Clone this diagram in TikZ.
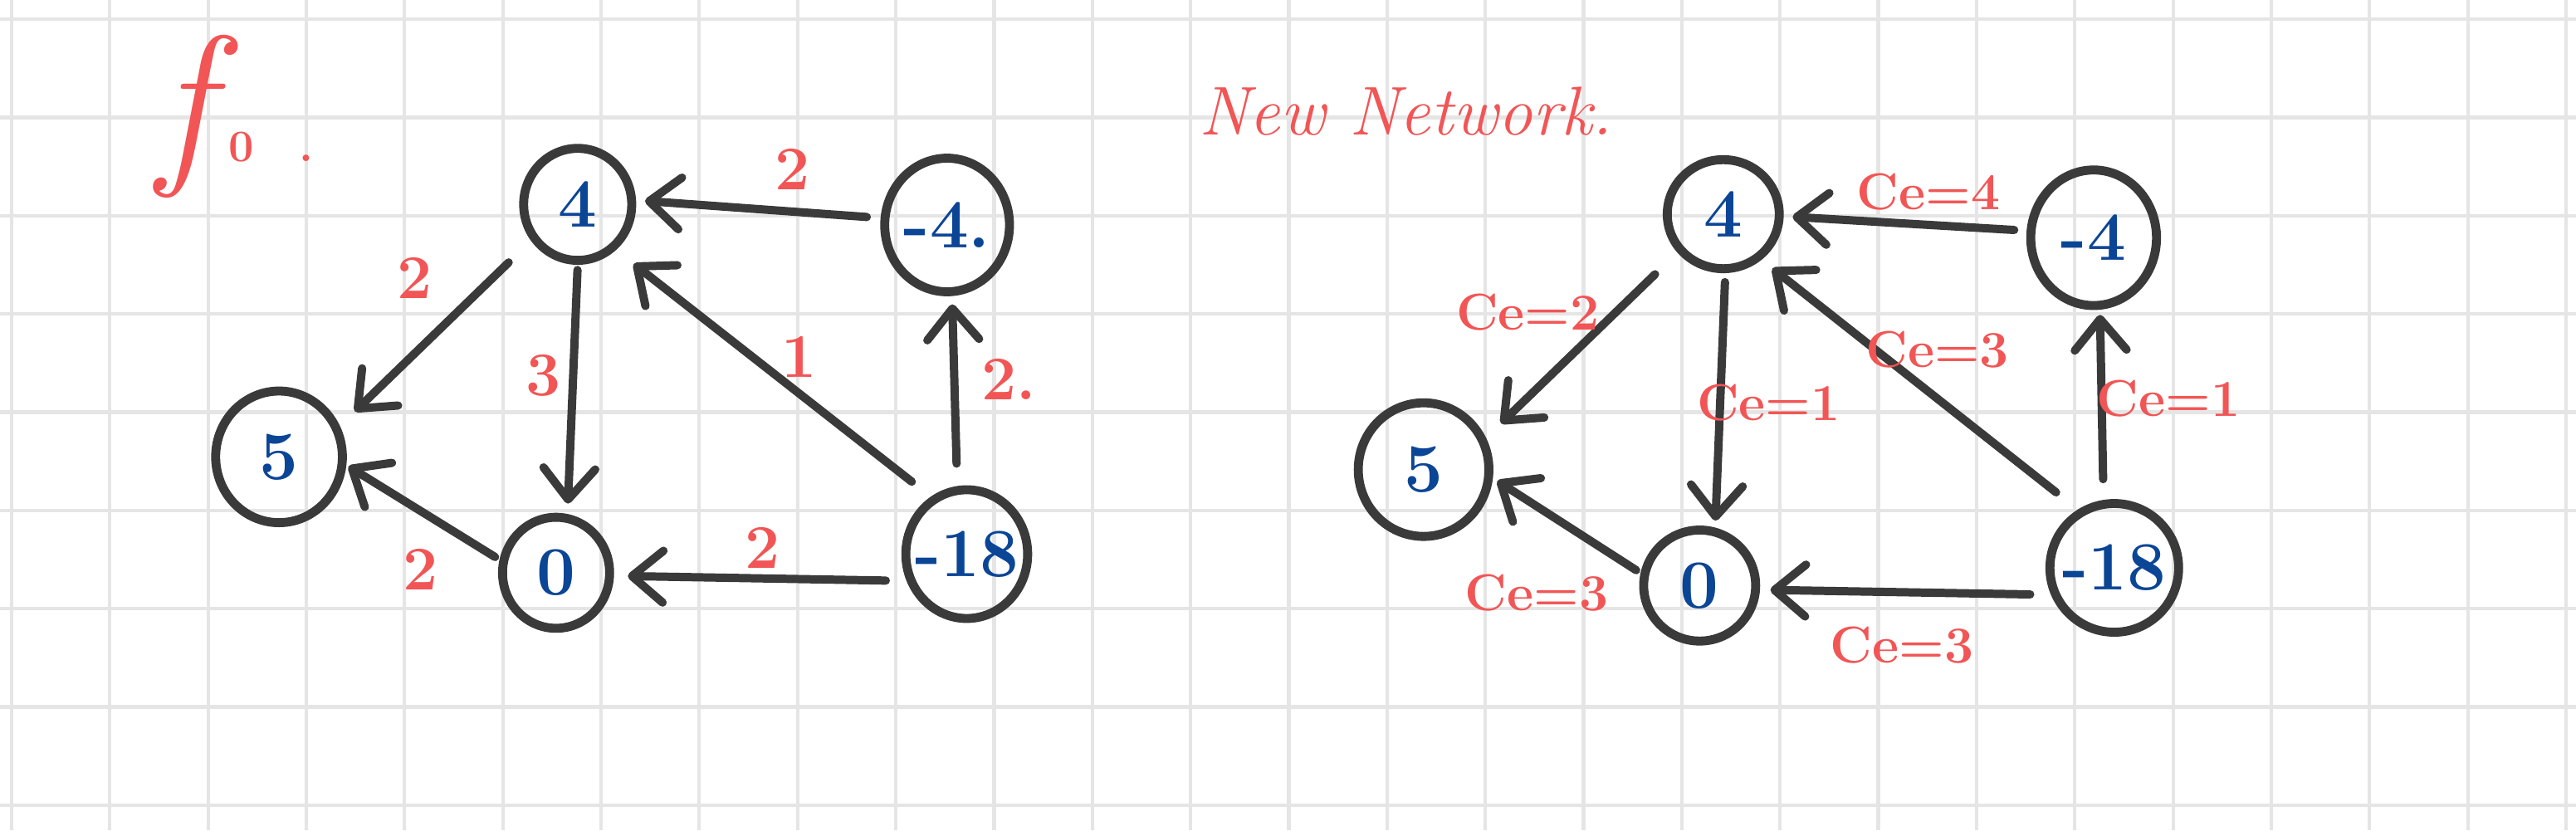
\documentclass[tikz,border=0pt]{standalone}
\usetikzlibrary{arrows.meta,shapes.geometric}
\definecolor{InkGray}{HTML}{3A3A3A}
\definecolor{InkBlue}{HTML}{0B4596}
\definecolor{InkRed}{HTML}{F25555}
\definecolor{GridGray}{HTML}{E5E5E5}

\begin{document}
\begin{tikzpicture}[
        state/.style={ellipse,draw=InkGray,line width=2.6pt,inner sep=-5pt,
                      text=InkBlue,font=\bfseries\fontsize{20}{20}\selectfont},
        flowarrow/.style={draw=InkGray,line width=2.4pt,line cap=round,
                      -{Straight Barb[length=9pt,width=15pt,round]}},
        weight/.style={text=InkRed,font=\bfseries\fontsize{18}{18}\selectfont},
        capl/.style={text=InkRed,font=\bfseries\fontsize{15}{15}\selectfont}]
        % grid paper
        \useasboundingbox (0,0) rectangle (26.22,8.45);
        \fill[white] (0,0) rectangle (26.22,8.45);
        \foreach \x in {0,...,26}
          \draw[GridGray,line width=1pt] (\x+0.118,0) -- (\x+0.118,8.45);
        \foreach \y in {0,...,8}
          \draw[GridGray,line width=1pt] (0,8.255-\y) -- (26.22,8.255-\y);
        % titles
        \node[InkRed,inner sep=0pt,font=\fontsize{52}{52}\selectfont]
              (flow0) at (2.40,7.26)
              {\itshape f\upshape\bfseries\fontsize{13}{13}\selectfont\ 0\quad.};
        \node[InkRed,font=\itshape\fontsize{20}{20}\selectfont]
              (newnet) at (14.31,7.32) {New Network.};
        % flow f0
        \node[state,minimum width=1.10cm,minimum height=1.14cm]
              (n4) at (5.88,6.37) {4};
        \node[state,minimum width=1.27cm,minimum height=1.36cm]
              (nm4) at (9.64,6.16) {-4.};
        \node[state,minimum width=1.29cm,minimum height=1.34cm]
              (n5) at (2.84,3.80) {5};
        \node[state,minimum width=1.09cm,minimum height=1.13cm]
              (n0) at (5.66,2.62) {0};
        \node[state,minimum width=1.24cm,minimum height=1.31cm]
              (nm18) at (9.84,2.81) {-18};
        \draw[flowarrow,shorten <=4pt,shorten >=2.6pt] (nm4.174) -- (n4.4);
        \draw[flowarrow,shorten <=9pt,shorten >=6pt] (n4.218) -- (n5.27);
        \draw[flowarrow,shorten <=1.5pt,shorten >=3pt] (n4.-90) -- (n0.79);
        \draw[flowarrow,shorten <=7pt,shorten >=6.5pt] (nm18.122) -- (n4.-50);
        \draw[flowarrow,shorten <=6.5pt,shorten >=2.4pt] (nm18.98) -- (nm4.-86);
        \draw[flowarrow,shorten <=6pt,shorten >=4pt] (nm18.204) -- (n0.-3);
        \draw[flowarrow,shorten <=1.5pt,shorten >=0.7pt] (n0.167) -- (n5.-7);
        \node[weight] (w45) at (4.22,5.62) {2};
        \node[weight] (w40) at (5.53,4.63) {3};
        \node[weight] (wm44) at (8.07,6.73) {2};
        \node[weight] (wm184) at (8.13,4.82) {1};
        \node[weight] (wm18m4) at (10.27,4.59) {2.};
        \node[weight] (wm180) at (7.76,2.87) {2};
        \node[weight] (w05) at (4.28,2.65) {2};
        % new network
        \node[state,minimum width=1.14cm,minimum height=1.11cm]
              (r4) at (17.54,6.27) {4};
        \node[state,minimum width=1.28cm,minimum height=1.38cm]
              (rm4) at (21.31,6.03) {-4};
        \node[state,minimum width=1.33cm,minimum height=1.36cm]
              (r5) at (14.49,3.67) {5};
        \node[state,minimum width=1.14cm,minimum height=1.13cm]
              (r0) at (17.30,2.49) {0};
        \node[state,minimum width=1.31cm,minimum height=1.31cm]
              (rm18) at (21.52,2.67) {-18};
        \draw[flowarrow,shorten <=3.6pt,shorten >=2.6pt] (rm4.174) -- (r4.-2);
        \draw[flowarrow,shorten <=9pt,shorten >=6pt] (r4.220) -- (r5.27);
        \draw[flowarrow,shorten <=2.6pt,shorten >=2pt] (r4.-88) -- (r0.75);
        \draw[flowarrow,shorten <=8pt,shorten >=4pt] (rm18.122) -- (r4.-50);
        \draw[flowarrow,shorten <=6pt,shorten >=1.5pt] (rm18.99) -- (rm4.-85);
        \draw[flowarrow,shorten <=6pt,shorten >=3pt] (rm18.203) -- (r0.-4);
        \draw[flowarrow,shorten <=1.5pt,shorten >=1.5pt] (r0.168) -- (r5.-7);
        \node[capl] (cm44) at (19.63,6.50) {Ce=4};
        \node[capl] (c45) at (15.55,5.27) {Ce=2};
        \node[capl] (cm184) at (19.72,4.89) {Ce=3};
        \node[capl] (c40) at (18.00,4.35) {Ce=1};
        \node[capl] (cm18m4) at (22.07,4.39) {Ce=1};
        \node[capl] (c05) at (15.64,2.42) {Ce=3};
        \node[capl] (cm180) at (19.36,1.88) {Ce=3};
\end{tikzpicture}
\end{document}
